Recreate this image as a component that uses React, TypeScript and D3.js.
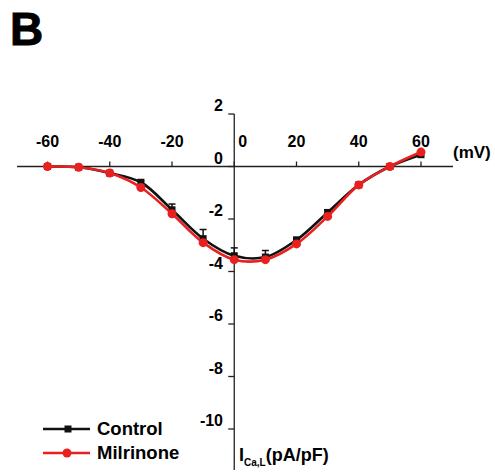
import React, { useEffect, useRef } from 'react';
import * as d3 from 'd3';

const voltages = [-60, -50, -40, -30, -20, -10, 0, 10, 20, 30, 40, 50, 60];
const control = [0, -0.03, -0.25, -0.6, -1.65, -2.75, -3.4, -3.45, -2.8, -1.75, -0.7, 0, 0.45];
const controlErr = [0, 0, 0.05, 0.05, 0.22, 0.35, 0.3, 0.25, 0.1, 0.1, 0.05, 0, 0.05];
const milrinone = [0, -0.03, -0.25, -0.8, -1.8, -2.9, -3.55, -3.55, -2.95, -1.9, -0.7, 0, 0.55];
const xTicks = [-60, -40, -20, 0, 20, 40, 60];
const yTicks = [2, 0, -2, -4, -6, -8, -10];

const W = 495;
const H = 474;
const font = 'Liberation Sans, Arial, sans-serif';

const App = () => {
  const ref = useRef<SVGSVGElement>(null);

  useEffect(() => {
    const svg = d3.select(ref.current);
    svg.selectAll('*').remove();

    const x = d3.scaleLinear().domain([-60, 60]).range([47.5, 421]);
    const y = d3.scaleLinear().domain([0, -10]).range([166.5, 429]);
    const x0 = x(0);
    const y0 = y(0);

    // panel letter
    svg.append('text').attr('x', 10).attr('y', 45)
      .attr('font-family', font).attr('font-weight', 'bold').attr('font-size', 46)
      .attr('stroke', '#000').attr('stroke-width', 1)
      .text('B');

    // x axis
    const ax = svg.append('g').attr('stroke', '#222').attr('stroke-width', 1.3);
    ax.append('line').attr('x1', 17).attr('x2', 453).attr('y1', y0).attr('y2', y0);
    ax.selectAll('.xt').data(xTicks).enter().append('line')
      .attr('x1', d => x(d)).attr('x2', d => x(d))
      .attr('y1', y0).attr('y2', y0 - 5);
    svg.selectAll('.xl').data(xTicks).enter().append('text')
      .attr('x', d => d === 0 ? x0 + 4 : x(d))
      .attr('y', 147)
      .attr('text-anchor', d => d === 0 ? 'start' : 'middle')
      .attr('font-family', font).attr('font-weight', 'bold').attr('font-size', 16)
      .text(d => d);
    svg.append('text').attr('x', 453).attr('y', 158)
      .attr('font-family', font).attr('font-weight', 'bold').attr('font-size', 17)
      .text('(mV)');

    // y axis
    ax.append('line').attr('x1', x0).attr('x2', x0).attr('y1', y(2)).attr('y2', 470);
    ax.selectAll('.yt').data(yTicks).enter().append('line')
      .attr('x1', x0 - 6).attr('x2', x0)
      .attr('y1', d => y(d)).attr('y2', d => y(d));
    svg.selectAll('.yl').data(yTicks).enter().append('text')
      .attr('x', 223)
      .attr('y', d => y(d) - 3)
      .attr('text-anchor', 'end')
      .attr('font-family', font).attr('font-weight', 'bold').attr('font-size', 16)
      .text(d => d);

    // y axis title
    const t = svg.append('text').attr('x', 239).attr('y', 461)
      .attr('font-family', font).attr('font-weight', 'bold').attr('font-size', 18);
    t.append('tspan').text('I');
    t.append('tspan').attr('font-size', 10).attr('dy', 5).text('Ca,L');
    t.append('tspan').attr('dy', -5).text('(pA/pF)');

    const line = d3.line<number>()
      .x((_, i) => x(voltages[i]))
      .y(d => y(d))
      .curve(d3.curveCatmullRom);

    // control error bars
    const eb = svg.append('g').attr('stroke', '#111').attr('stroke-width', 1.5);
    voltages.forEach((v, i) => {
      if (controlErr[i] <= 0) return;
      const top = y(control[i] + controlErr[i]);
      eb.append('line').attr('x1', x(v)).attr('x2', x(v)).attr('y1', y(control[i])).attr('y2', top);
      eb.append('line').attr('x1', x(v) - 3.5).attr('x2', x(v) + 3.5).attr('y1', top).attr('y2', top);
    });

    svg.append('path').attr('d', line(control)!)
      .attr('fill', 'none').attr('stroke', '#111').attr('stroke-width', 2.6);
    svg.selectAll('.cm').data(control).enter().append('rect')
      .attr('x', (_, i) => x(voltages[i]) - 3.5).attr('y', d => y(d) - 3.5)
      .attr('width', 7).attr('height', 7).attr('fill', '#111');

    svg.append('path').attr('d', line(milrinone)!)
      .attr('fill', 'none').attr('stroke', '#e8201f').attr('stroke-width', 2.6);
    svg.selectAll('.mm').data(milrinone).enter().append('circle')
      .attr('cx', (_, i) => x(voltages[i])).attr('cy', d => y(d))
      .attr('r', 4.5).attr('fill', '#e8201f');

    // legend
    const lg = svg.append('g');
    const items = [
      { name: 'Control', color: '#111', shape: 'rect', yy: 429 },
      { name: 'Milrinone', color: '#e8201f', shape: 'circle', yy: 453 },
    ];
    items.forEach(it => {
      lg.append('line').attr('x1', 43).attr('x2', 90).attr('y1', it.yy).attr('y2', it.yy)
        .attr('stroke', it.color).attr('stroke-width', 2.5);
      if (it.shape === 'rect') {
        lg.append('rect').attr('x', 64.5).attr('y', it.yy - 3.5).attr('width', 7).attr('height', 7).attr('fill', it.color);
      } else {
        lg.append('circle').attr('cx', 67).attr('cy', it.yy).attr('r', 4.5).attr('fill', it.color);
      }
      lg.append('text').attr('x', 97).attr('y', it.yy + 6)
        .attr('font-family', font).attr('font-weight', 'bold').attr('font-size', 18.5)
        .text(it.name);
    });
  }, []);

  return (
    <svg ref={ref} width={W} height={H}
      style={{ position: 'absolute', left: 0, top: 0, background: '#fff' }} />
  );
};

export default App;
